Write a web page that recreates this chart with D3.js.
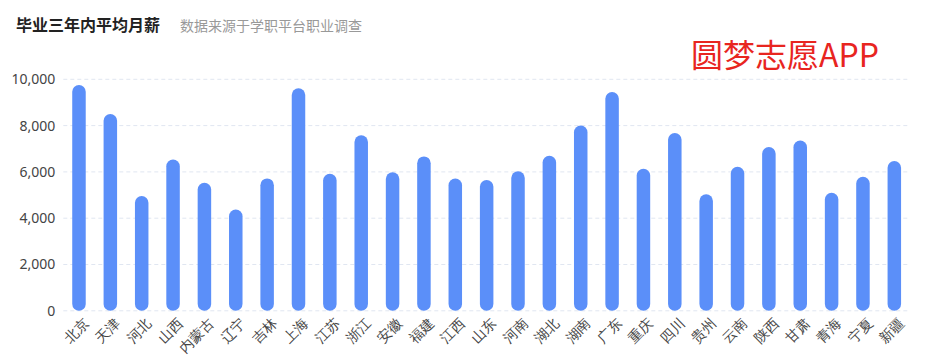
<!DOCTYPE html>
<html><head><meta charset="utf-8">
<script src="https://cdn.jsdelivr.net/npm/d3@7/dist/d3.min.js"></script>
<style>
html,body{margin:0;padding:0;background:#fff;}
svg{display:block;font-family:"Noto Sans CJK SC","Noto Sans",sans-serif;}
</style></head>
<body>
<svg id="chart" width="934" height="360"></svg>
<script>
const provinces = ["北京","天津","河北","山西","内蒙古","辽宁","吉林","上海","江苏","浙江","安徽","福建","江西","山东","河南","湖北","湖南","广东","重庆","四川","贵州","云南","陕西","甘肃","青海","宁夏","新疆"];
const salaries = [9750,8500,4960,6540,5530,4380,5720,9610,5920,7580,5980,6670,5710,5650,6030,6700,8000,9450,6140,7680,5030,6220,7080,7360,5100,5790,6470];
const yTicks = [0,2000,4000,6000,8000,10000];
const titleText = "毕业三年内平均月薪";
const subtitleText = "数据来源于学职平台职业调查";
const watermark = "圆梦志愿APP";

const svg = d3.select("#chart");
const m = {left:63.3, right:910, top:79.3, bottom:310.8};

const x = d3.scaleBand().domain(provinces).range([m.left, m.right]).padding(0);
const y = d3.scaleLinear().domain([0,10000]).range([m.bottom, m.top]);

// grid
svg.append("g").selectAll("line").data(yTicks).join("line")
  .attr("x1", m.left).attr("x2", m.right)
  .attr("y1", d=>y(d)).attr("y2", d=>y(d))
  .attr("stroke", "#e0e6f1").attr("stroke-width",1)
  .attr("stroke-dasharray","4,3");

// y axis labels
const yAxis = d3.axisLeft(y).tickValues(yTicks).tickFormat(d3.format(",")).tickSize(0).tickPadding(8);
const ga = svg.append("g").attr("transform",`translate(${m.left},0)`).call(yAxis);
ga.select(".domain").remove();
ga.selectAll("text").attr("font-size",14).attr("fill","#444").attr("font-family","'Noto Sans','Noto Sans CJK SC',sans-serif");

// bars
const bw = 13.5;
svg.append("g").selectAll("rect").data(provinces).join("rect")
  .attr("x", d=>x(d)+x.bandwidth()/2-bw/2)
  .attr("width", bw)
  .attr("y", (d,i)=>y(salaries[i]))
  .attr("height", (d,i)=>y(0)-y(salaries[i]))
  .attr("rx", bw/2).attr("ry", bw/2)
  .attr("fill","#5b8ff9");

// x labels
const xAxis = d3.axisBottom(x).tickSize(0).tickPadding(0);
const gx = svg.append("g").attr("transform",`translate(0,${m.bottom})`).call(xAxis);
gx.select(".domain").remove();
gx.selectAll("text")
  .attr("font-size",14).attr("fill","#444")
  .attr("text-anchor","end")
  .attr("dy",null)
  .attr("transform","translate(8,11) rotate(-45)")
  .attr("y",0).attr("x",0)
  .attr("dominant-baseline","middle");

// titles
svg.append("text").attr("x",16).attr("y",31).text(titleText)
  .attr("font-size",16).attr("font-weight","bold").attr("fill","#222");
svg.append("text").attr("x",180).attr("y",31).text(subtitleText)
  .attr("font-size",14).attr("fill","#999");
svg.append("text").attr("x",691).attr("y",67).text(watermark)
  .attr("font-size",32).attr("fill","#e8251f");
</script>
</body></html>
